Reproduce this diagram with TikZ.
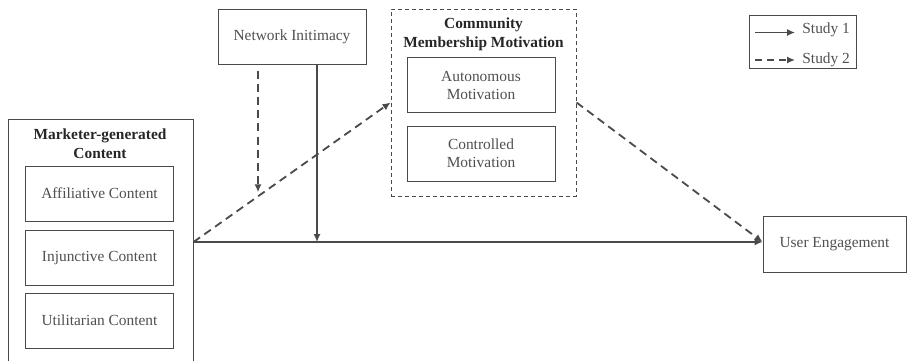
\documentclass[tikz,border=0pt]{standalone}
\usepackage{fontspec}
\setmainfont{Liberation Serif}
\usetikzlibrary{arrows.meta,positioning,calc}
\definecolor{linegray}{HTML}{4A4A4A}
\definecolor{txtgray}{HTML}{505050}

\begin{document}
\begin{tikzpicture}[
    x=0.5pt, y=-0.5pt,
    font=\fontsize{7.7}{9}\selectfont,
    box/.style={draw=linegray, line width=0.5pt, fill=white, align=center, text=txtgray, inner sep=0pt, minimum width=74pt, minimum height=27.5pt},
    group/.style={draw=linegray, line width=0.5pt, inner sep=0pt},
    title/.style={align=center, font=\fontsize{7.7}{9.5}\selectfont\bfseries, text=black!85},
    arrow/.style={-{Latex[length=4pt,width=3.6pt]}, draw=linegray, line width=0.9pt},
    dasharrow/.style={arrow, dash pattern=on 4pt off 2.6pt}
]
\useasboundingbox (0,0) rectangle (908,360);

% marketer-generated content
\node[group, minimum width=92.5pt, minimum height=123pt] (mgc) at (100.5,242) {};
\node[title] (mgctitle) at (100,143.5) {Marketer-generated\\Content};
\node[box] (aff) at (99.5,193.5) {Affiliative Content};
\node[box] (inj) at (99.5,258) {Injunctive Content};
\node[box] (util) at (99.5,320.5) {Utilitarian Content};

% moderator
\node[box] (net) at (292,36.5) {Network Initimacy};

% community membership motivation
\node[group, dashed, dash pattern=on 2pt off 1.5pt, minimum width=92.5pt, minimum height=93.5pt] (cmm) at (483.5,102.5) {};
\node[title] (cmmtitle) at (483.5,34.5) {Community\\Membership Motivation};
\node[box] (auto) at (481,85) {Autonomous\\Motivation};
\node[box] (ctrl) at (481,153.5) {Controlled\\Motivation};

% outcome
\node[box, minimum width=71.5pt, minimum height=28pt] (ue) at (834.5,244) {User Engagement};

% paths
\coordinate (hit) at (mgc.east -| ue.west);
\coordinate (mid) at ($(mgc.east)!0.328!(cmm.west)$);
\draw[arrow] (mgc.east) -- (hit);
\draw[dasharrow] (mgc.east) -- (cmm.west);
\draw[dasharrow] (cmm.east) -- (hit);
\draw[arrow] ([xshift=12.5pt]net.south) -- ([xshift=12.5pt]net.south |- mgc.east);
\draw[dasharrow] ([xshift=-17pt,yshift=-3pt]net.south) -- ([xshift=-17pt,yshift=2pt]net.south |- mid);

% legend
\node[group, minimum width=53.5pt, minimum height=26.5pt] (legend) at (802.5,41.5) {};
\node[anchor=west, inner sep=0pt, text=txtgray] (s1) at (802,30) {Study 1};
\node[anchor=west, inner sep=0pt, text=txtgray] (s2) at (802,60) {Study 2};
\coordinate (s1a) at (755,32.5);
\coordinate (s2a) at (755,60);
\draw[arrow] (s1a) -- (s1a -| 795,0);
\draw[dasharrow, dash pattern=on 3.5pt off 2.5pt] (s2a) -- (s2a -| 795,0);
\end{tikzpicture}
\end{document}
